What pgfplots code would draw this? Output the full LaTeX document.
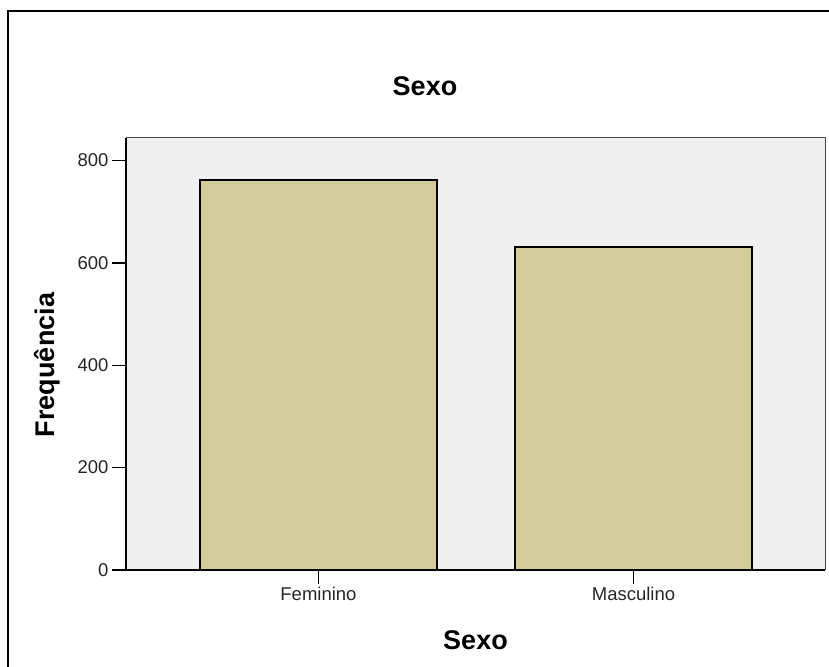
\documentclass[border=0pt]{standalone}
\usepackage{fontspec}
\setmainfont{Liberation Sans}
\usepackage{pgfplots}
\pgfplotsset{compat=1.18}
\definecolor{barfill}{RGB}{211,206,153}
\definecolor{bgcol}{RGB}{240,240,240}
\definecolor{boxcol}{RGB}{70,70,70}
\begin{document}
\begin{tikzpicture}[x=1pt,y=1pt]
\useasboundingbox (0,0) rectangle (829,666);
\draw[line width=2.6pt, black] (8,-10) -- (8,655) -- (840,655);
\begin{axis}[
  at={(126pt,96pt)}, anchor=south west,
  scale only axis, width=699pt, height=432pt,
  xmin=-0.611, xmax=1.608, ymin=0, ymax=844,
  axis background/.style={fill=bgcol, draw=boxcol, line width=1pt},
  axis x line*=bottom, axis y line*=left,
  axis line style={black, line width=1.3pt, -},
  xtick={0,1}, xticklabels={Feminino,Masculino},
  ytick={0,200,400,600,800},
  tick align=outside, major tick length=14pt,
  tick style={black, line width=1.5pt},
  /pgf/number format/assume math mode=true,
  ticklabel style={font=\fontsize{18.5}{20}\selectfont, text=black!85},
  ymajorgrids=false, xmajorgrids=false,
  clip=false,
]
\addplot[ybar, bar width=237pt, fill=barfill, draw=black, line width=1.6pt]
  coordinates {(0,762) (1,631)};
\end{axis}
\node at (425,580) {\fontsize{27}{30}\selectfont\bfseries Sexo};
\node at (475.5,26) {\fontsize{27}{30}\selectfont\bfseries Sexo};
\node[rotate=90] at (47,301) {\fontsize{27}{30}\selectfont\bfseries Frequência};
\end{tikzpicture}
\end{document}
